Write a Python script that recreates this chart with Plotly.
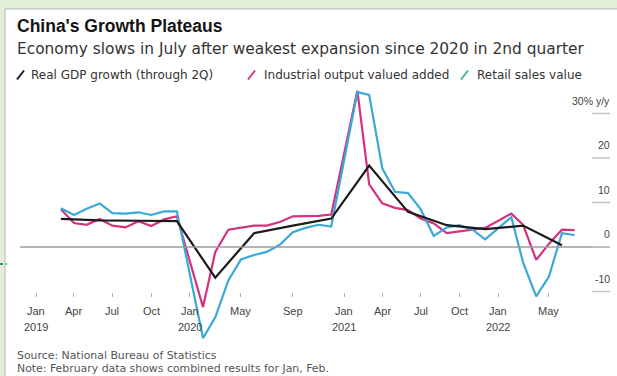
import plotly.graph_objects as go

# Monthly activity data (Jan-Feb combined results shown at February)
months = [
    "2019-03", "2019-04", "2019-05", "2019-06", "2019-07", "2019-08", "2019-09", "2019-10", "2019-11", "2019-12",
    "2020-02", "2020-03", "2020-04", "2020-05", "2020-06", "2020-07", "2020-08", "2020-09", "2020-10", "2020-11", "2020-12",
    "2021-02", "2021-03", "2021-04", "2021-05", "2021-06", "2021-07", "2021-08", "2021-09", "2021-10", "2021-11", "2021-12",
    "2022-02", "2022-03", "2022-04", "2022-05", "2022-06", "2022-07",
]
industrial_output = [
    8.5, 5.4, 5.0, 6.3, 4.8, 4.4, 5.8, 4.7, 6.2, 6.9,
    -13.5, -1.1, 3.9, 4.4, 4.8, 4.8, 5.6, 6.9, 6.9, 7.0, 7.3,
    35.1, 14.1, 9.8, 8.8, 8.3, 6.4, 5.3, 3.1, 3.5, 3.8, 4.3,
    7.5, 5.0, -2.9, 0.7, 3.9, 3.8,
]
retail_sales = [
    8.7, 7.2, 8.6, 9.8, 7.6, 7.5, 7.8, 7.2, 8.0, 8.0,
    -20.5, -15.8, -7.5, -2.8, -1.8, -1.1, 0.5, 3.3, 4.3, 5.0, 4.6,
    34.8, 34.2, 17.7, 12.4, 12.1, 8.5, 2.5, 4.4, 4.9, 3.9, 1.7,
    6.7, -3.5, -11.1, -6.7, 3.1, 2.7,
]

# Quarterly real GDP, plotted at the last month of each quarter
gdp_quarters = [
    "2019-03", "2019-06", "2019-09", "2019-12",
    "2020-03", "2020-06", "2020-09", "2020-12",
    "2021-03", "2021-06", "2021-09", "2021-12",
    "2022-03", "2022-06",
]
gdp_growth = [6.3, 6.0, 5.9, 5.8, -6.9, 3.1, 4.8, 6.4, 18.3, 7.9, 4.9, 4.0, 4.8, 0.4]

# Axis ticks
x_tick_dates = ["2019-01", "2019-04", "2019-07", "2019-10", "2020-01", "2020-05", "2020-09",
                "2021-01", "2021-04", "2021-07", "2021-10", "2022-01", "2022-05"]
x_tick_labels = ["Jan", "Apr", "Jul", "Oct", "Jan", "May", "Sep", "Jan", "Apr", "Jul", "Oct", "Jan", "May"]
year_dates = ["2019-01", "2020-01", "2021-01", "2022-01"]
year_labels = ["2019", "2020", "2021", "2022"]
y_tick_values = [30, 20, 10, 0, -10]
y_tick_labels = ["30% y/y", "20", "10", "0", "-10"]

legend_names = ["Real GDP growth (through 2Q)", "Industrial output valued added", "Retail sales value"]

BLACK = "#1b1b1b"
PINK = "#d4327f"
BLUE = "#38a9d8"
TEAL = "#3bb39f"
FONT = "Liberation Sans, Arial, sans-serif"
WIDE = "DejaVu Sans, Verdana, sans-serif"

W, H = 617, 376
ML, MR, MT, MB = 20, 7, 85, 31
PW, PH = W - ML - MR, H - MT - MB


def px(x):
    return (x - ML) / PW


def py(y):
    return (H - MB - y) / PH


fig = go.Figure()
fig.add_trace(go.Scatter(x=months, y=industrial_output, mode="lines",
                         line=dict(color=PINK, width=2.2), name=legend_names[1]))
fig.add_trace(go.Scatter(x=months, y=retail_sales, mode="lines",
                         line=dict(color=BLUE, width=2.2), name=legend_names[2]))
fig.add_trace(go.Scatter(x=gdp_quarters, y=gdp_growth, mode="lines",
                         line=dict(color=BLACK, width=2.2), name=legend_names[0]))

shapes = [
    # white card on the green page
    dict(type="rect", xref="paper", yref="paper", x0=px(5), x1=px(630), y0=py(9), y1=py(390),
         fillcolor="white", line=dict(color="#b8b8b8", width=1), layer="below"),
    # dotted rule peeking from the page edge
    dict(type="line", xref="paper", yref="paper", x0=px(0), x1=px(7), y0=py(264), y1=py(264),
         line=dict(color="#2a9d8f", width=2, dash="dot")),
    # zero line
    dict(type="line", xref="paper", yref="y", x0=0, x1=1, y0=0, y1=0,
         line=dict(color="#9c9c9c", width=1.5)),
]
for v in y_tick_values:
    shapes.append(dict(type="line", xref="paper", yref="y", x0=px(592), x1=1, y0=v, y1=v,
                       line=dict(color="#c4c4c4", width=1.5)))

# legend slashes
for (x0, col) in [(17, BLACK), (248, PINK), (461, TEAL)]:
    shapes.append(dict(type="line", xref="paper", yref="paper",
                       x0=px(x0), x1=px(x0 + 7), y0=py(79.5), y1=py(70.5),
                       line=dict(color=col, width=2)))

annotations = [
    dict(text="<b>China's Growth Plateaus</b>", x=px(15), y=py(26), xref="paper", yref="paper",
         xanchor="left", yanchor="middle", showarrow=False, font=dict(size=17.5, color="#141414", family=FONT)),
    dict(text="Economy slows in July after weakest expansion since 2020 in 2nd quarter",
         x=px(15), y=py(49), xref="paper", yref="paper", xanchor="left", yanchor="middle",
         showarrow=False, font=dict(size=15.4, color="#333333", family=WIDE)),
    dict(text="Source: National Bureau of Statistics", x=px(15), y=py(355), xref="paper", yref="paper",
         xanchor="left", yanchor="middle", showarrow=False, font=dict(size=10.9, color="#555555", family=WIDE)),
    dict(text="Note: February data shows combined results for Jan, Feb.", x=px(15), y=py(368),
         xref="paper", yref="paper", xanchor="left", yanchor="middle", showarrow=False,
         font=dict(size=10.9, color="#555555", family=WIDE)),
]
for name, x0 in zip(legend_names, [29, 262, 475]):
    annotations.append(dict(text=name, x=px(x0), y=py(75), xref="paper", yref="paper",
                            xanchor="left", yanchor="middle", showarrow=False,
                            font=dict(size=12, color="#333333", family=WIDE)))
for v, t in zip(y_tick_values, y_tick_labels):
    annotations.append(dict(text=t, x=1, y=v, xref="paper", yref="y", xanchor="right",
                            yanchor="bottom", yshift=5, xshift=2, showarrow=False,
                            font=dict(size=10.5, color="#444444", family=FONT)))
for d, t in zip(x_tick_dates, x_tick_labels):
    annotations.append(dict(text=t, x=d, y=py(311), xref="x", yref="paper", xanchor="center",
                            yanchor="middle", showarrow=False,
                            font=dict(size=11, color="#444444", family=FONT)))
for d, t in zip(year_dates, year_labels):
    annotations.append(dict(text=t, x=d, y=py(327), xref="x", yref="paper", xanchor="center",
                            yanchor="middle", showarrow=False,
                            font=dict(size=11, color="#444444", family=FONT)))

fig.update_layout(
    width=W, height=H,
    margin=dict(l=ML, r=MR, t=MT, b=MB),
    paper_bgcolor="#e2eed7",
    plot_bgcolor="rgba(0,0,0,0)",
    showlegend=False,
    shapes=shapes,
    annotations=annotations,
    xaxis=dict(
        type="date",
        range=["2018-11-24", "2022-09-23"],
        anchor="free", position=py(292),
        tickvals=x_tick_dates, showticklabels=False,
        ticks="outside", ticklen=4, tickwidth=1, tickcolor="#b0b0b0",
        showgrid=False, zeroline=False, showline=False,
    ),
    yaxis=dict(
        range=[(247 - (H - MB)) / 4.45, (247 - MT) / 4.45],
        showticklabels=False, showgrid=False, zeroline=False, showline=False,
    ),
)

fig.write_html("out.html")
